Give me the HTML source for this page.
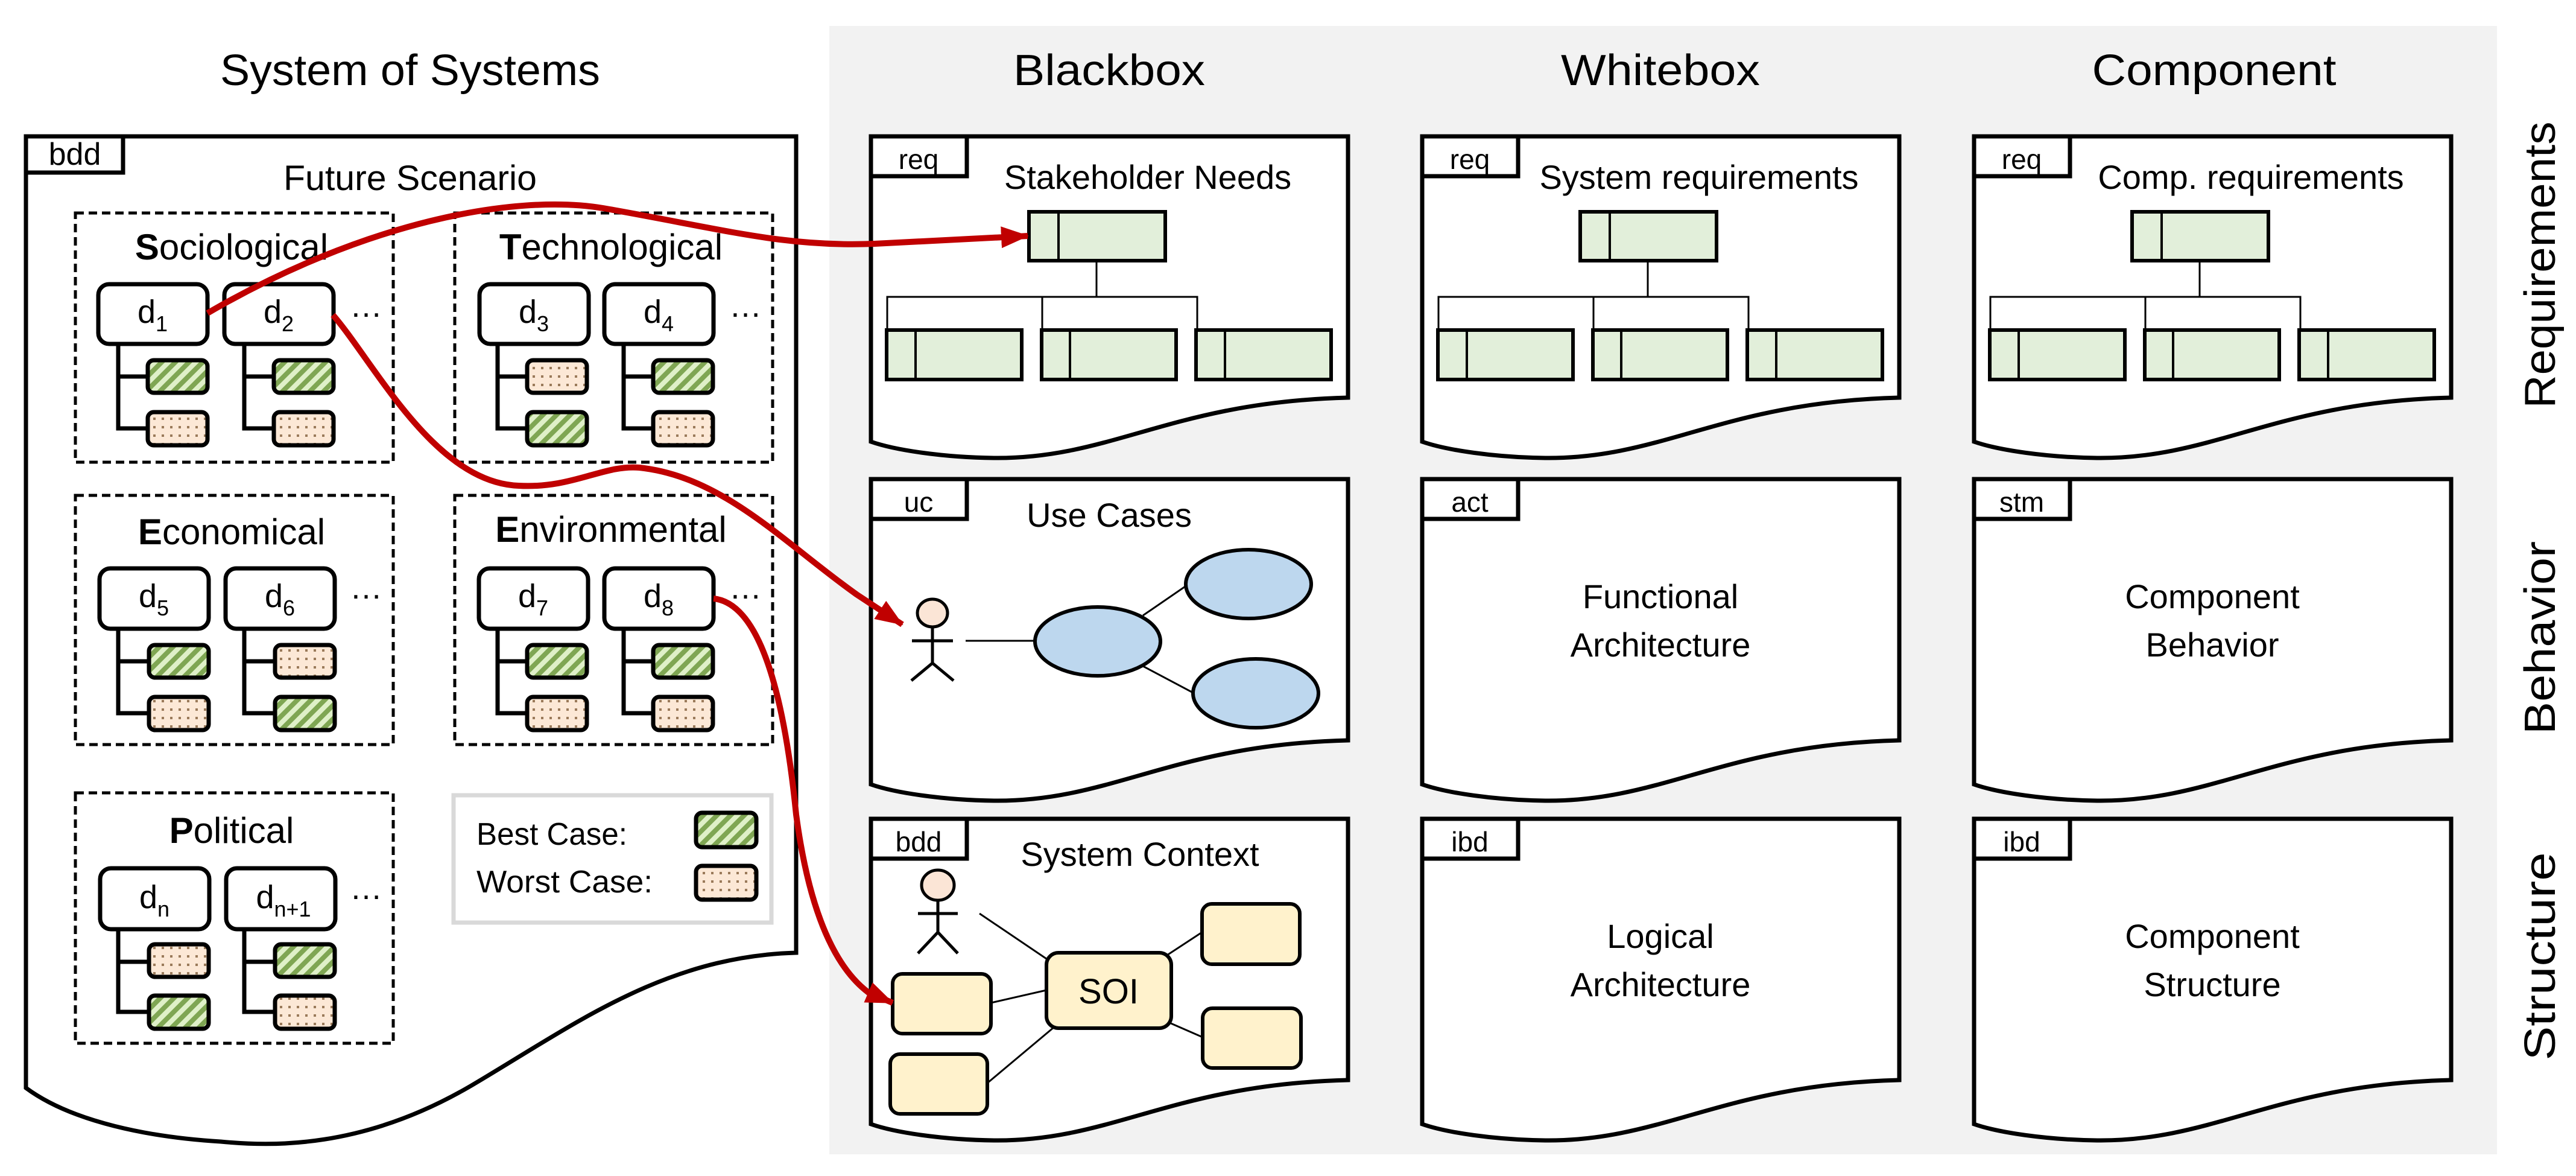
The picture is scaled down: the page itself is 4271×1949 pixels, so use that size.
<!DOCTYPE html>
<html><head><meta charset="utf-8"><style>
html,body{margin:0;padding:0;background:#fff;}
svg{display:block;}
text{font-family:"Liberation Sans",sans-serif;fill:#000;}
</style></head><body>
<svg width="4271" height="1949" viewBox="0 0 4271 1949" xmlns="http://www.w3.org/2000/svg">
<defs>
<pattern id="gs" patternUnits="userSpaceOnUse" width="16" height="16" patternTransform="rotate(45)">
<rect width="16" height="16" fill="#dff0c8"/><rect width="8" height="16" fill="#7fa653"/>
</pattern>
<pattern id="od" patternUnits="userSpaceOnUse" width="14" height="14">
<rect width="14" height="14" fill="#fce8d6"/><rect x="3" y="3" width="4" height="4" fill="#9a7a5a"/>
</pattern>
<marker id="ah" markerUnits="userSpaceOnUse" markerWidth="46" markerHeight="36" refX="44" refY="18" orient="auto">
<path d="M0,0 L46,18 L0,36 Z" fill="#c00000"/>
</marker>
<g id="docpanel">
<path d="M0,0 H791 V433 C500,440 400,535 204,533 C120,532 40,520 0,506 Z" fill="#fff" stroke="#000" stroke-width="7"/>
<rect x="0" y="0" width="159" height="66" fill="#fff" stroke="#000" stroke-width="7"/>
</g>
<g id="reqdiag" stroke="#000">
<line x1="374" y1="206" x2="374" y2="266" stroke-width="3"/>
<polyline points="27,321 27,266 541,266 541,321" fill="none" stroke-width="3"/>
<line x1="284" y1="266" x2="284" y2="321" stroke-width="3"/>
<rect x="262" y="125" width="226" height="81" fill="#e2efda" stroke-width="6"/>
<line x1="311" y1="125" x2="311" y2="206" stroke-width="4"/>
<rect x="26" y="321" width="224" height="82" fill="#e2efda" stroke-width="6"/>
<line x1="74" y1="321" x2="74" y2="403" stroke-width="4"/>
<rect x="283" y="321" width="223" height="82" fill="#e2efda" stroke-width="6"/>
<line x1="330" y1="321" x2="330" y2="403" stroke-width="4"/>
<rect x="539" y="321" width="224" height="82" fill="#e2efda" stroke-width="6"/>
<line x1="587" y1="321" x2="587" y2="403" stroke-width="4"/>
</g>
</defs>

<rect x="1375" y="43" width="2765" height="1870" fill="#f2f2f2"/>

<!-- column titles -->
<text x="680" y="141" font-size="72" text-anchor="middle" textLength="630" lengthAdjust="spacingAndGlyphs">System of Systems</text>
<text x="1839" y="141" font-size="72" text-anchor="middle" textLength="318" lengthAdjust="spacingAndGlyphs">Blackbox</text>
<text x="2753" y="141" font-size="72" text-anchor="middle" textLength="330" lengthAdjust="spacingAndGlyphs">Whitebox</text>
<text x="3671" y="141" font-size="72" text-anchor="middle" textLength="405" lengthAdjust="spacingAndGlyphs">Component</text>

<!-- row labels -->
<text transform="translate(4236,439) rotate(-90)" font-size="72" text-anchor="middle" textLength="475" lengthAdjust="spacingAndGlyphs">Requirements</text>
<text transform="translate(4236,1057) rotate(-90)" font-size="72" text-anchor="middle" textLength="320" lengthAdjust="spacingAndGlyphs">Behavior</text>
<text transform="translate(4236,1585) rotate(-90)" font-size="72" text-anchor="middle" textLength="345" lengthAdjust="spacingAndGlyphs">Structure</text>

<!-- left big panel -->
<path d="M43,226 H1320 V1579 C1100,1585 950,1700 780,1800 C600,1905 450,1900 366,1892 C250,1885 120,1860 43,1803 Z" fill="#fff" stroke="#000" stroke-width="7"/>
<rect x="43" y="226" width="161" height="60" fill="#fff" stroke="#000" stroke-width="7"/>
<text x="124" y="273" font-size="52" text-anchor="middle">bdd</text>
<text x="680" y="315" font-size="58" text-anchor="middle" textLength="420" lengthAdjust="spacingAndGlyphs">Future Scenario</text>

<g font-size="60">
<!-- dashed boxes -->
<g fill="none" stroke="#000" stroke-width="5" stroke-dasharray="14,8">
<rect x="125" y="353" width="527" height="413"/>
<rect x="754" y="353" width="527" height="413"/>
<rect x="125" y="821" width="527" height="413"/>
<rect x="754" y="821" width="527" height="413"/>
<rect x="125" y="1314" width="527" height="415"/>
</g>
<text x="384" y="430" text-anchor="middle"><tspan font-weight="bold">S</tspan>ociological</text>
<text x="1013" y="430" text-anchor="middle"><tspan font-weight="bold">T</tspan>echnological</text>
<text x="384" y="902" text-anchor="middle"><tspan font-weight="bold">E</tspan>conomical</text>
<text x="1013" y="898" text-anchor="middle"><tspan font-weight="bold">E</tspan>nvironmental</text>
<text x="384" y="1397" text-anchor="middle"><tspan font-weight="bold">P</tspan>olitical</text>
</g>

<!-- d groups: generated inline -->
<g stroke="#000" stroke-width="7" fill="#fff">
<!-- Socio T=353 L=125 -->
<g transform="translate(125,353)">
<polyline points="71,217 71,357 120,357" fill="none"/><line x1="71" y1="271" x2="120" y2="271"/>
<polyline points="280,217 280,357 329,357" fill="none"/><line x1="280" y1="271" x2="329" y2="271"/>
<rect x="38" y="118" width="181" height="99" rx="18"/><rect x="247" y="118" width="181" height="99" rx="18"/>
<rect x="120" y="244" width="99" height="54" rx="10" fill="url(#gs)"/><rect x="120" y="330" width="99" height="55" rx="10" fill="url(#od)"/>
<rect x="329" y="244" width="99" height="54" rx="10" fill="url(#gs)"/><rect x="329" y="330" width="99" height="55" rx="10" fill="url(#od)"/>
</g>
<g transform="translate(754,353)">
<polyline points="71,217 71,357 120,357" fill="none"/><line x1="71" y1="271" x2="120" y2="271"/>
<polyline points="280,217 280,357 329,357" fill="none"/><line x1="280" y1="271" x2="329" y2="271"/>
<rect x="41" y="118" width="181" height="99" rx="18"/><rect x="248" y="118" width="181" height="99" rx="18"/>
<rect x="120" y="244" width="99" height="54" rx="10" fill="url(#od)"/><rect x="120" y="330" width="99" height="55" rx="10" fill="url(#gs)"/>
<rect x="329" y="244" width="99" height="54" rx="10" fill="url(#gs)"/><rect x="329" y="330" width="99" height="55" rx="10" fill="url(#od)"/>
</g>
<g transform="translate(125,821)">
<polyline points="71,221 71,361 120,361" fill="none"/><line x1="71" y1="275" x2="120" y2="275"/>
<polyline points="280,221 280,361 329,361" fill="none"/><line x1="280" y1="275" x2="329" y2="275"/>
<rect x="40" y="121" width="181" height="100" rx="18"/><rect x="249" y="121" width="181" height="100" rx="18"/>
<rect x="122" y="248" width="99" height="54" rx="10" fill="url(#gs)"/><rect x="122" y="334" width="99" height="55" rx="10" fill="url(#od)"/>
<rect x="331" y="248" width="99" height="54" rx="10" fill="url(#od)"/><rect x="331" y="334" width="99" height="55" rx="10" fill="url(#gs)"/>
</g>
<g transform="translate(754,821)">
<polyline points="71,221 71,361 120,361" fill="none"/><line x1="71" y1="275" x2="120" y2="275"/>
<polyline points="280,221 280,361 329,361" fill="none"/><line x1="280" y1="275" x2="329" y2="275"/>
<rect x="40" y="121" width="181" height="100" rx="18"/><rect x="248" y="121" width="181" height="100" rx="18"/>
<rect x="120" y="248" width="99" height="54" rx="10" fill="url(#gs)"/><rect x="120" y="334" width="99" height="55" rx="10" fill="url(#od)"/>
<rect x="329" y="248" width="99" height="54" rx="10" fill="url(#gs)"/><rect x="329" y="334" width="99" height="55" rx="10" fill="url(#od)"/>
</g>
<g transform="translate(125,1314)">
<polyline points="71,226 71,363 120,363" fill="none"/><line x1="71" y1="280" x2="120" y2="280"/>
<polyline points="280,226 280,363 329,363" fill="none"/><line x1="280" y1="280" x2="329" y2="280"/>
<rect x="41" y="125" width="181" height="101" rx="18"/><rect x="250" y="125" width="181" height="101" rx="18"/>
<rect x="122" y="251" width="99" height="54" rx="10" fill="url(#od)"/><rect x="122" y="336" width="99" height="55" rx="10" fill="url(#gs)"/>
<rect x="331" y="251" width="99" height="54" rx="10" fill="url(#gs)"/><rect x="331" y="336" width="99" height="55" rx="10" fill="url(#od)"/>
</g>
</g>

<g font-size="54" text-anchor="middle">
<text x="253" y="535">d<tspan font-size="36" dy="14">1</tspan></text>
<text x="462" y="535">d<tspan font-size="36" dy="14">2</tspan></text>
<text x="885" y="535">d<tspan font-size="36" dy="14">3</tspan></text>
<text x="1092" y="535">d<tspan font-size="36" dy="14">4</tspan></text>
<text x="255" y="1006">d<tspan font-size="36" dy="14">5</tspan></text>
<text x="464" y="1006">d<tspan font-size="36" dy="14">6</tspan></text>
<text x="884" y="1006">d<tspan font-size="36" dy="14">7</tspan></text>
<text x="1092" y="1006">d<tspan font-size="36" dy="14">8</tspan></text>
<text x="256" y="1505">d<tspan font-size="36" dy="14">n</tspan></text>
<text x="470" y="1505">d<tspan font-size="36" dy="14">n+1</tspan></text>
<text x="607" y="525">…</text><text x="1236" y="525">…</text>
<text x="607" y="992">…</text><text x="1236" y="992">…</text>
<text x="607" y="1490">…</text>
</g>

<!-- legend -->
<rect x="752" y="1318" width="527" height="211" fill="#fff" stroke="#d9d9d9" stroke-width="7"/>
<text x="790" y="1400" font-size="52" textLength="250" lengthAdjust="spacingAndGlyphs">Best Case:</text>
<text x="790" y="1479" font-size="52" textLength="292" lengthAdjust="spacingAndGlyphs">Worst Case:</text>
<rect x="1154" y="1347" width="100" height="57" rx="10" fill="url(#gs)" stroke="#000" stroke-width="7"/>
<rect x="1154" y="1435" width="100" height="56" rx="10" fill="url(#od)" stroke="#000" stroke-width="7"/>

<!-- doc panels -->
<g font-size="46" text-anchor="middle">
<!-- blackbox -->
<g transform="translate(1444,226)"><use href="#docpanel"/><use href="#reqdiag"/>
<text x="79" y="54">req</text><text x="459" y="87" font-size="56">Stakeholder Needs</text></g>
<g transform="translate(1444,794)"><use href="#docpanel"/>
<text x="79" y="54">uc</text><text x="395" y="79" font-size="56">Use Cases</text></g>
<g transform="translate(1444,1357)"><use href="#docpanel"/>
<text x="79" y="54">bdd</text><text x="446" y="78" font-size="56">System Context</text></g>
<!-- whitebox -->
<g transform="translate(2358,226)"><use href="#docpanel"/><use href="#reqdiag"/>
<text x="79" y="54">req</text><text x="459" y="87" font-size="56">System requirements</text></g>
<g transform="translate(2358,794)"><use href="#docpanel"/>
<text x="79" y="54">act</text><text x="395" y="214" font-size="56">Functional</text><text x="395" y="294" font-size="56">Architecture</text></g>
<g transform="translate(2358,1357)"><use href="#docpanel"/>
<text x="79" y="54">ibd</text><text x="395" y="214" font-size="56">Logical</text><text x="395" y="294" font-size="56">Architecture</text></g>
<!-- component -->
<g transform="translate(3273,226)"><use href="#docpanel"/><use href="#reqdiag"/>
<text x="79" y="54">req</text><text x="459" y="87" font-size="56">Comp. requirements</text></g>
<g transform="translate(3273,794)"><use href="#docpanel"/>
<text x="79" y="54">stm</text><text x="395" y="214" font-size="56">Component</text><text x="395" y="294" font-size="56">Behavior</text></g>
<g transform="translate(3273,1357)"><use href="#docpanel"/>
<text x="79" y="54">ibd</text><text x="395" y="214" font-size="56">Component</text><text x="395" y="294" font-size="56">Structure</text></g>
</g>

<!-- use case content -->
<g stroke="#000">
<line x1="1601" y1="1062" x2="1716" y2="1062" stroke-width="3"/>
<line x1="1895" y1="1020" x2="1965" y2="972" stroke-width="3"/>
<line x1="1895" y1="1104" x2="1978" y2="1148" stroke-width="3"/>
<ellipse cx="1820" cy="1063" rx="104" ry="57" fill="#bdd7ee" stroke-width="6"/>
<ellipse cx="2070" cy="968" rx="104" ry="57" fill="#bdd7ee" stroke-width="6"/>
<ellipse cx="2082" cy="1149" rx="104" ry="57" fill="#bdd7ee" stroke-width="6"/>
<ellipse cx="1546" cy="1016" rx="25" ry="23" fill="#fbe5d6" stroke-width="5"/>
<line x1="1546" y1="1039" x2="1546" y2="1099" stroke-width="5"/>
<line x1="1512" y1="1062" x2="1580" y2="1062" stroke-width="5"/>
<polyline points="1511,1128 1546,1099 1581,1128" fill="none" stroke-width="5"/>
</g>

<!-- system context content -->
<g stroke="#000">
<line x1="1624" y1="1514" x2="1735" y2="1589" stroke-width="3"/>
<line x1="1643" y1="1662" x2="1735" y2="1641" stroke-width="3"/>
<line x1="1637" y1="1795" x2="1748" y2="1702" stroke-width="3"/>
<line x1="1935" y1="1583" x2="1993" y2="1545" stroke-width="3"/>
<line x1="1939" y1="1695" x2="1994" y2="1719" stroke-width="3"/>
<rect x="1735" y="1579" width="207" height="125" rx="20" fill="#fff2cc" stroke-width="6"/>
<rect x="1480" y="1614" width="163" height="99" rx="16" fill="#fff2cc" stroke-width="6"/>
<rect x="1476" y="1747" width="161" height="99" rx="16" fill="#fff2cc" stroke-width="6"/>
<rect x="1993" y="1498" width="162" height="100" rx="16" fill="#fff2cc" stroke-width="6"/>
<rect x="1994" y="1671" width="163" height="99" rx="16" fill="#fff2cc" stroke-width="6"/>
<ellipse cx="1555" cy="1467" rx="27" ry="25" fill="#fbe5d6" stroke-width="5"/>
<line x1="1555" y1="1492" x2="1555" y2="1545" stroke-width="5"/>
<line x1="1522" y1="1514" x2="1588" y2="1514" stroke-width="5"/>
<polyline points="1522,1580 1555,1545 1588,1580" fill="none" stroke-width="5"/>
</g>
<text x="1838" y="1663" font-size="58" text-anchor="middle">SOI</text>

<!-- red connectors -->
<g fill="none" stroke="#c00000" stroke-width="10">
<path d="M344,519 C600,370 850,320 1000,345 C1200,380 1300,410 1450,404 L1704,391" marker-end="url(#ah)"/>
<path d="M552,522 C620,600 720,800 860,805 C950,810 1000,770 1060,775 C1200,790 1300,900 1420,985 L1496,1035" marker-end="url(#ah)"/>
<path d="M1183,992 C1260,1000 1300,1150 1320,1350 C1340,1500 1380,1600 1440,1645 L1480,1662" marker-end="url(#ah)"/>
</g>
</svg>
</body></html>
